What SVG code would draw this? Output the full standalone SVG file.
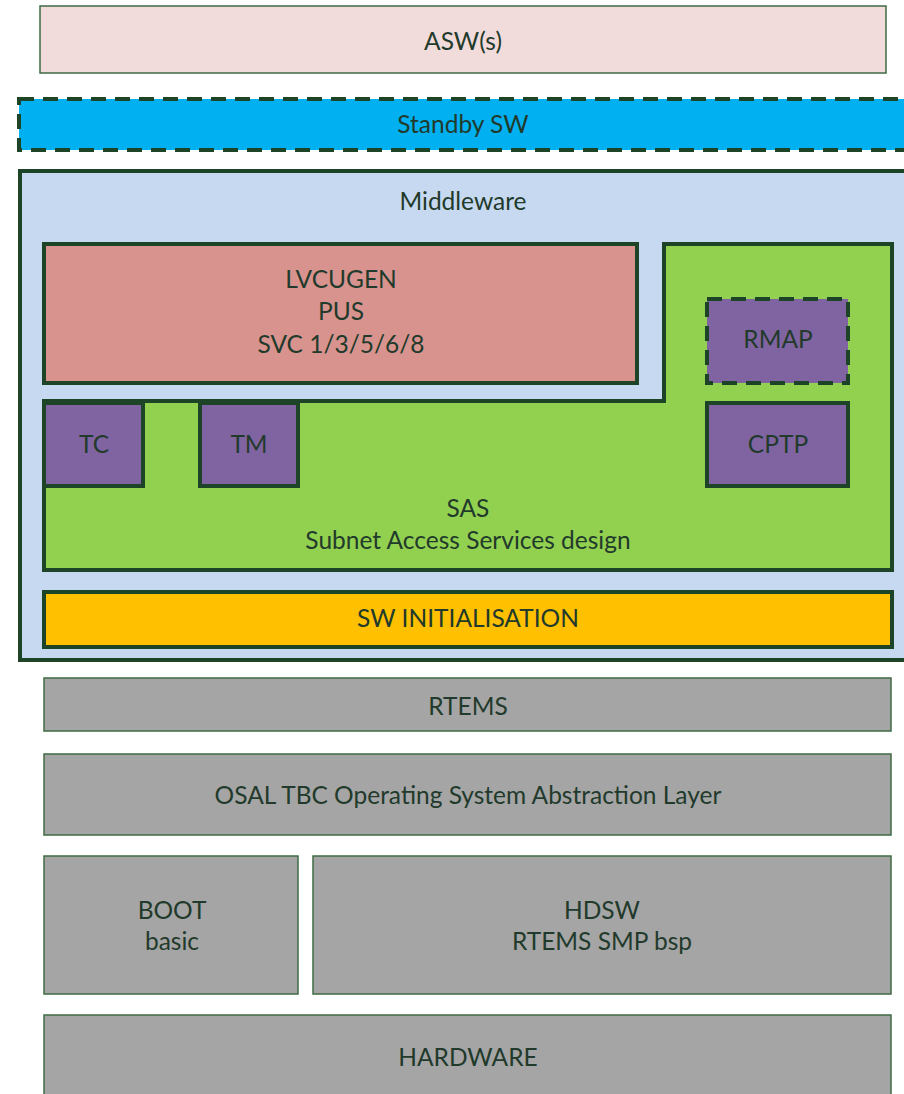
<svg xmlns="http://www.w3.org/2000/svg" width="904" height="1094" viewBox="0 0 904 1094">
  <style>
    .lbl { font-family: Lato, "Open Sans", "Liberation Sans", sans-serif; font-size: 24.5px; fill: #223a2b; text-anchor: middle; dominant-baseline: central; }
    .thin { stroke: #3f6b44; stroke-width: 1.5; }
    .thick { stroke: #1d4427; stroke-width: 4; }
    .dash { stroke: #1d4427; stroke-width: 4; stroke-dasharray: 15 9; }
    .grey { fill: #a5a5a5; }
    .purple { fill: #8064a2; }
  </style>

  <g id="asw">
    <rect x="40" y="6" width="846" height="67" fill="#f2dcdb" class="thin"/>
    <text class="lbl" x="463" y="40">ASW(s)</text>
  </g>

  <g id="standby-sw">
    <rect x="19" y="99" width="900" height="51" fill="#00b0f0" class="dash"/>
    <text class="lbl" x="463" y="123">Standby SW</text>
  </g>

  <g id="middleware">
    <rect x="20" y="171" width="900" height="489" fill="#c6d9f0" class="thick"/>
    <text class="lbl" x="463" y="200">Middleware</text>
  </g>

  <g id="lvcugen">
    <rect x="44" y="244" width="593" height="139" fill="#d9938f" class="thick"/>
    <text class="lbl" x="341" y="278">LVCUGEN</text>
    <text class="lbl" x="341" y="310">PUS</text>
    <text class="lbl" x="341" y="343">SVC 1/3/5/6/8</text>
  </g>

  <g id="sas">
    <path d="M664 244 H892 V570 H44 V401 H664 Z" fill="#92d050" class="thick" stroke-linejoin="miter"/>
    <text class="lbl" x="468" y="507">SAS</text>
    <text class="lbl" x="468" y="539">Subnet Access Services design</text>
  </g>

  <g id="tc">
    <rect x="44" y="403" width="99" height="83" class="purple thick"/>
    <text class="lbl" x="94" y="443">TC</text>
  </g>

  <g id="tm">
    <rect x="200" y="403" width="98" height="83" class="purple thick"/>
    <text class="lbl" x="249" y="443">TM</text>
  </g>

  <g id="rmap">
    <rect x="707" y="299" width="141" height="84" class="purple dash"/>
    <text class="lbl" x="778" y="338">RMAP</text>
  </g>

  <g id="cptp">
    <rect x="707" y="403" width="141" height="83" class="purple thick"/>
    <text class="lbl" x="778" y="443">CPTP</text>
  </g>

  <g id="sw-init">
    <rect x="44" y="592" width="848" height="55" fill="#ffc000" class="thick"/>
    <text class="lbl" x="468" y="617">SW INITIALISATION</text>
  </g>

  <g id="rtems">
    <rect x="44" y="678" width="847" height="53" class="grey thin"/>
    <text class="lbl" x="468" y="705">RTEMS</text>
  </g>

  <g id="osal">
    <rect x="44" y="754" width="847" height="81" class="grey thin"/>
    <text class="lbl" x="468" y="794">OSAL TBC Operating System Abstraction Layer</text>
  </g>

  <g id="boot">
    <rect x="44" y="856" width="254" height="138" class="grey thin"/>
    <text class="lbl" x="172" y="909">BOOT</text>
    <text class="lbl" x="172" y="940">basic</text>
  </g>

  <g id="hdsw">
    <rect x="313" y="856" width="578" height="138" class="grey thin"/>
    <text class="lbl" x="602" y="909">HDSW</text>
    <text class="lbl" x="602" y="940">RTEMS SMP bsp</text>
  </g>

  <g id="hardware">
    <rect x="44" y="1015" width="847" height="100" class="grey thin"/>
    <text class="lbl" x="468" y="1056">HARDWARE</text>
  </g>

  <g id="connectors"></g>
</svg>
